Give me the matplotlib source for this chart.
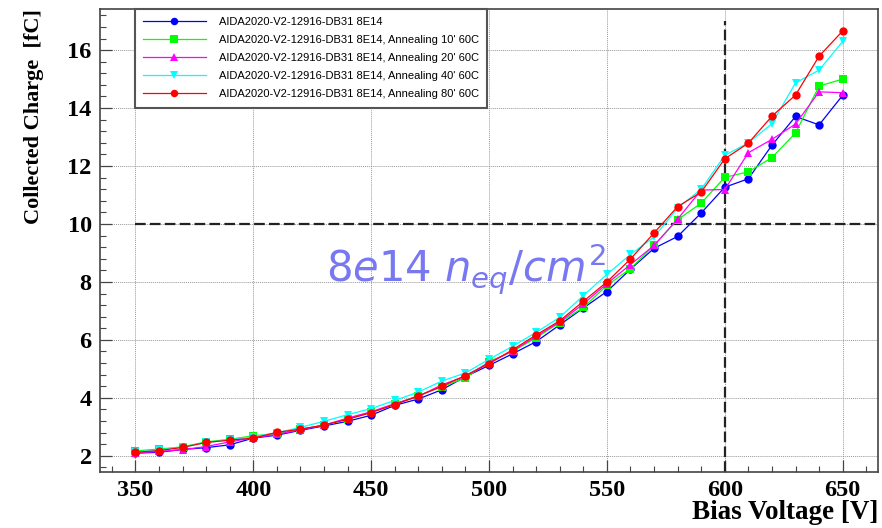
#!/usr/bin/env python3
"""Collected charge vs bias voltage for AIDA2020-V2-12916-DB31 8E14, annealing series."""
import matplotlib
matplotlib.use("Agg")
import matplotlib.pyplot as plt
from matplotlib.font_manager import FontProperties
from matplotlib.ticker import MultipleLocator

# ---------------------------------------------------------------------------
# data
# ---------------------------------------------------------------------------
voltage = list(range(350, 660, 10))  # V

q_none = [2.09, 2.12, 2.22, 2.28, 2.38, 2.61, 2.71, 2.88, 3.03, 3.19, 3.40,
          3.74, 3.96, 4.28, 4.73, 5.12, 5.52, 5.94, 6.52, 7.10, 7.67, 8.44,
          9.16, 9.57, 10.38, 11.27, 11.56, 12.72, 13.71, 13.42, 14.44]
q_10 = [2.17, 2.23, 2.31, 2.48, 2.57, 2.69, 2.76, 2.92, 3.05, 3.27, 3.50,
        3.78, 4.08, 4.38, 4.69, 5.25, 5.60, 6.07, 6.60, 7.12, 7.88, 8.46,
        9.26, 10.15, 10.72, 11.61, 11.80, 12.29, 13.14, 14.76, 15.00]
q_20 = [2.10, 2.15, 2.21, 2.32, 2.48, 2.62, 2.74, 2.90, 3.06, 3.30, 3.52,
        3.80, 4.05, 4.45, 4.75, 5.22, 5.62, 6.12, 6.62, 7.24, 7.94, 8.60,
        9.26, 10.17, 11.17, 11.19, 12.46, 12.92, 13.45, 14.56, 14.53]
q_40 = [2.13, 2.20, 2.30, 2.46, 2.55, 2.66, 2.80, 2.98, 3.19, 3.42, 3.63,
        3.91, 4.20, 4.58, 4.86, 5.33, 5.78, 6.26, 6.78, 7.53, 8.26, 8.95,
        9.55, 10.55, 11.20, 12.37, 12.80, 13.46, 14.87, 15.31, 16.30]
q_80 = [2.12, 2.18, 2.29, 2.46, 2.54, 2.61, 2.81, 2.92, 3.06, 3.26, 3.49,
        3.77, 4.06, 4.40, 4.77, 5.18, 5.66, 6.17, 6.66, 7.33, 8.00, 8.79,
        9.69, 10.60, 11.10, 12.25, 12.79, 13.72, 14.45, 15.79, 16.66]

labels = [
    "AIDA2020-V2-12916-DB31 8E14",
    "AIDA2020-V2-12916-DB31 8E14, Annealing 10' 60C",
    "AIDA2020-V2-12916-DB31 8E14, Annealing 20' 60C",
    "AIDA2020-V2-12916-DB31 8E14, Annealing 40' 60C",
    "AIDA2020-V2-12916-DB31 8E14, Annealing 80' 60C",
]
series = [q_none, q_10, q_20, q_40, q_80]
colors = ["#0000ff", "#00ff00", "#ff00ff", "#00ffff", "#ff0000"]
markers = ["o", "s", "^", "v", "o"]

# ---------------------------------------------------------------------------
fig = plt.figure(figsize=(8.82, 5.28), dpi=100)
ax = fig.add_axes([0.1134, 0.106, 0.8821, 0.877])

for q, c, m, lab in zip(series, colors, markers, labels):
    ax.plot(voltage, q, color=c, marker=m, markersize=6, linewidth=0.9,
            markeredgewidth=0, label=lab)

# reference lines
ax.plot([350, 665], [10, 10], color="#222222", linewidth=1.6,
        dashes=(4.8, 1.9), zorder=1)
ax.plot([600, 600], [1.44, 17.0], color="#222222", linewidth=1.6,
        dashes=(4.8, 1.9), zorder=1)

ax.set_xlim(335, 665)
ax.set_ylim(1.44, 17.42)

ax.xaxis.set_major_locator(MultipleLocator(50))
ax.xaxis.set_minor_locator(MultipleLocator(10))
ax.yaxis.set_major_locator(MultipleLocator(2))
ax.yaxis.set_minor_locator(MultipleLocator(0.4))
ax.grid(True, which="major", color="#999999", linewidth=0.7, dashes=(1, 1))
ax.set_axisbelow(True)

ax.tick_params(which="both", direction="in", top=False, right=False,
               color="#444444")
ax.tick_params(which="major", length=8.5, width=0.9, pad=6)
ax.tick_params(which="minor", length=4.5, width=0.8)
for sp in ax.spines.values():
    sp.set_color("#444444")
    sp.set_linewidth(1.2)

tick_fp = FontProperties(family="Liberation Serif", weight="bold", size=17.5)
for t in ax.get_xticklabels() + ax.get_yticklabels():
    t.set_fontproperties(tick_fp)

ax.set_xlabel("Bias Voltage [V]",
              fontdict=dict(family="Liberation Serif", weight="bold", size=19.5),
              loc="right", labelpad=-1)
ax.set_ylabel("Collected Charge  [fC]",
              fontdict=dict(family="Liberation Serif", weight="bold", size=16),
              loc="top", labelpad=17)

leg = ax.legend(loc="upper left", bbox_to_anchor=(0.045, 1.0),
                prop=dict(family="Liberation Sans", size=8),
                handlelength=5.6, handletextpad=1.2, labelspacing=0.72,
                borderpad=0.75, borderaxespad=0, fancybox=False,
                framealpha=1, edgecolor="#555555", markerscale=0.9)
leg.get_frame().set_linewidth(1.5)

# fluence annotation
ax.text(431, 8.0, r"$\mathit{8e14\ n_{eq}/cm^{2}}$", color="#7878f0",
        fontsize=30, va="baseline", ha="left")

plt.savefig("out.png", dpi=100)
